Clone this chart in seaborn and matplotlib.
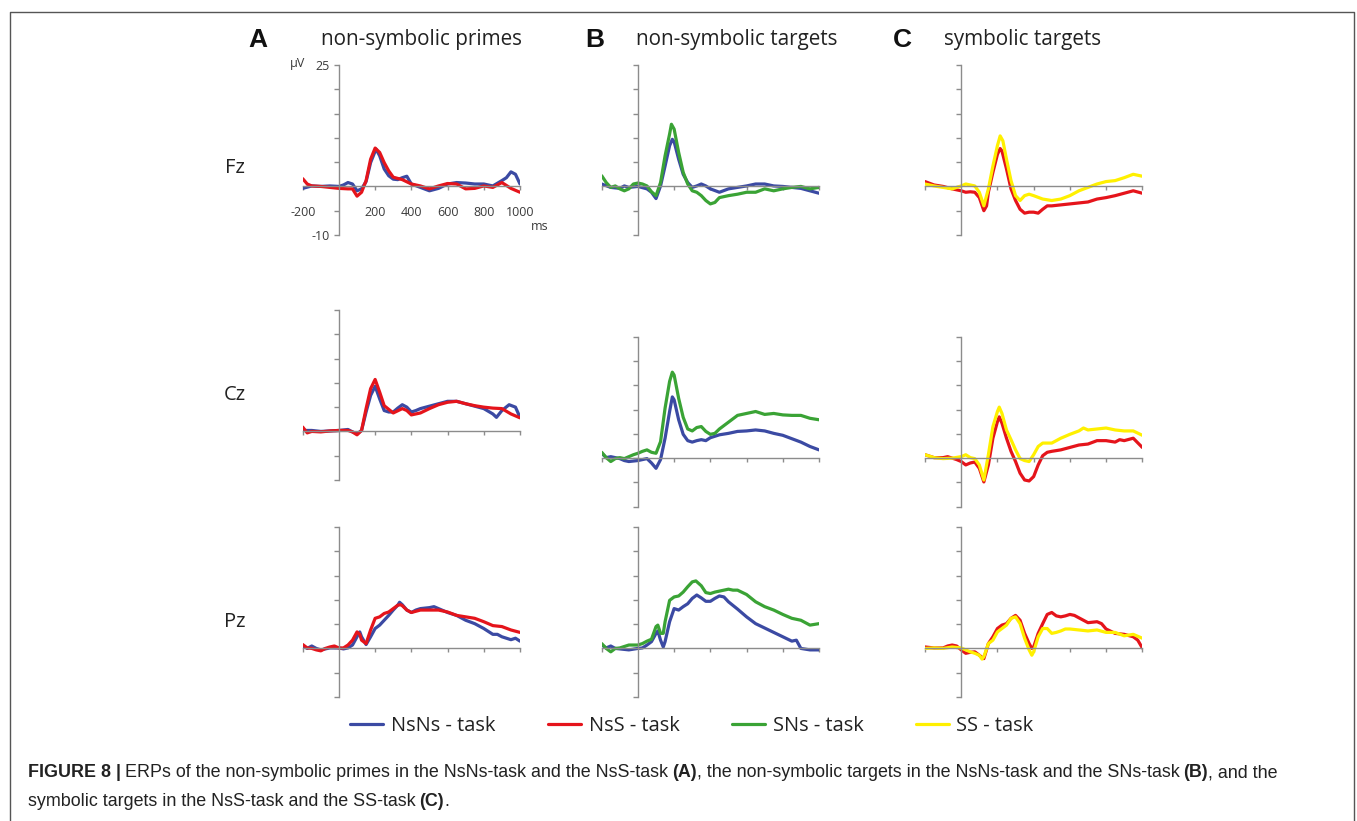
import matplotlib
matplotlib.use("Agg")
import matplotlib.pyplot as plt
import seaborn as sns
from matplotlib.lines import Line2D

# ---------------- data (ms, microvolts) ----------------
channels = ["Fz", "Cz", "Pz"]
panel_titles = ["non-symbolic primes", "non-symbolic targets", "symbolic targets"]
panel_letters = ["A", "B", "C"]
conditions = ["NsNs - task", "NsS - task", "SNs - task", "SS - task"]
xtick_labels = ["-200", "200", "400", "600", "800", "1000"]

# Panel A, Fz
a_fz_nsns_t = [-200, -150, -100, -50, 0, 25, 50, 75, 100, 125, 150, 175, 205, 225, 250, 275, 300, 325, 350, 375, 400, 450, 500, 550, 600, 650, 700, 750, 800, 850, 900, 925, 950, 975, 1000]
a_fz_nsns_v = [-0.4, 0.1, 0.0, 0.1, 0.0, 0.3, 0.8, 0.5, -0.9, -0.5, 1.0, 4.9, 7.7, 6.3, 3.6, 2.2, 1.5, 1.4, 1.8, 2.1, 0.5, -0.2, -0.9, -0.4, 0.5, 0.8, 0.7, 0.5, 0.5, 0.1, 1.2, 1.8, 3.0, 2.5, 0.5]
a_fz_nss_t = [-200, -175, -150, -100, -50, 0, 50, 75, 100, 125, 150, 175, 200, 225, 250, 275, 300, 350, 400, 450, 500, 550, 600, 650, 700, 750, 800, 850, 900, 950, 1000]
a_fz_nss_v = [1.6, 0.5, 0.1, 0.0, -0.2, -0.4, -0.5, -0.5, -2.0, -1.2, 1.2, 5.6, 7.9, 7.0, 4.9, 3.2, 1.9, 1.4, 0.5, 0.1, -0.5, 0.1, 0.6, 0.5, -0.5, -0.4, 0.1, -0.2, 0.8, -0.4, -1.2]

# Panel A, Cz
a_cz_nsns_t = [-200, -150, -100, -50, 0, 50, 75, 100, 125, 150, 175, 200, 225, 250, 275, 300, 325, 350, 375, 400, 425, 450, 500, 550, 600, 650, 700, 750, 800, 850, 870, 900, 940, 975, 1000]
a_cz_nsns_v = [0.2, 0.2, 0.0, 0.1, 0.2, 0.4, -0.1, -0.5, 0.2, 4.0, 7.4, 9.3, 6.7, 4.3, 4.0, 4.0, 4.8, 5.5, 5.0, 4.0, 4.3, 4.7, 5.2, 5.7, 6.2, 6.2, 5.7, 5.2, 4.7, 3.6, 2.9, 4.3, 5.5, 5.0, 2.9]
a_cz_nss_t = [-200, -175, -150, -100, -50, 0, 50, 75, 100, 125, 150, 175, 200, 225, 250, 300, 350, 375, 400, 450, 500, 550, 600, 650, 700, 750, 800, 850, 900, 950, 1000]
a_cz_nss_v = [0.9, -0.3, 0.0, -0.1, 0.1, 0.2, 0.2, -0.1, -0.7, 0.2, 4.7, 8.8, 10.7, 8.1, 5.3, 3.8, 4.7, 4.3, 3.4, 3.8, 4.7, 5.5, 6.0, 6.2, 5.7, 5.3, 5.0, 4.8, 4.7, 3.6, 2.8]

# Panel A, Pz
a_pz_nsns_t = [-200, -175, -150, -125, -100, -50, 0, 25, 50, 75, 100, 115, 125, 150, 175, 200, 225, 250, 275, 300, 325, 335, 350, 375, 400, 425, 450, 500, 525, 550, 600, 650, 700, 750, 800, 850, 875, 900, 950, 975, 1000]
a_pz_nsns_v = [0.5, 0.0, 0.5, 0.0, -0.3, 0.1, 0.1, -0.1, 0.1, 0.7, 2.4, 3.4, 2.4, 0.8, 2.4, 4.1, 4.8, 5.8, 6.8, 7.9, 8.9, 9.5, 9.0, 7.9, 7.4, 7.9, 8.2, 8.4, 8.6, 8.2, 7.4, 6.8, 5.8, 5.1, 4.1, 2.9, 2.9, 2.4, 1.8, 2.1, 1.5]
a_pz_nss_t = [-200, -175, -150, -125, -100, -75, -50, -25, 0, 25, 50, 75, 100, 115, 125, 150, 175, 200, 225, 250, 275, 300, 325, 340, 350, 375, 400, 450, 500, 550, 600, 650, 700, 750, 800, 850, 900, 950, 1000]
a_pz_nss_v = [0.8, 0.1, 0.0, -0.3, -0.5, 0.0, 0.3, 0.5, 0.1, 0.1, 0.7, 1.7, 3.4, 2.9, 1.7, 1.0, 3.8, 6.2, 6.5, 7.2, 7.5, 8.2, 8.9, 9.0, 8.8, 7.9, 7.4, 7.9, 7.9, 7.9, 7.5, 6.8, 6.5, 6.2, 5.5, 4.7, 4.5, 3.8, 3.3]

# Panel B, Fz
b_fz_nsns_t = [-200, -150, -100, -75, -50, 0, 50, 75, 100, 125, 150, 175, 190, 200, 225, 250, 275, 300, 325, 350, 375, 400, 450, 500, 550, 600, 650, 700, 750, 800, 850, 900, 950, 1000]
b_fz_nsns_v = [0.5, -0.2, -0.4, 0.1, -0.2, 0.0, -0.5, -1.2, -2.5, 0.1, 4.2, 8.4, 9.7, 9.2, 5.6, 2.5, 0.8, -0.2, 0.1, 0.5, 0.1, -0.5, -1.2, -0.5, -0.2, 0.1, 0.5, 0.5, 0.1, 0.0, -0.2, -0.4, -0.9, -1.4]
b_fz_sns_t = [-200, -175, -150, -125, -100, -75, -50, -25, 0, 25, 50, 75, 100, 125, 150, 175, 185, 200, 225, 250, 275, 300, 325, 350, 375, 400, 425, 450, 500, 550, 600, 650, 700, 750, 800, 850, 900, 950, 1000]
b_fz_sns_v = [2.2, 0.8, -0.2, 0.1, -0.5, -0.9, -0.5, 0.5, 0.7, 0.5, 0.1, -1.1, -1.9, 0.8, 6.3, 10.8, 12.8, 11.8, 7.0, 2.9, 0.5, -0.9, -1.2, -1.9, -2.9, -3.6, -3.3, -2.3, -1.9, -1.6, -1.2, -1.2, -0.5, -0.9, -0.5, -0.2, 0.0, -0.5, -0.2]

# Panel B, Cz
b_cz_nsns_t = [-200, -175, -150, -100, -75, -50, 0, 25, 50, 75, 100, 125, 150, 175, 190, 200, 225, 250, 275, 300, 325, 350, 375, 400, 450, 500, 550, 600, 650, 700, 750, 800, 850, 900, 950, 1000]
b_cz_nsns_v = [1.0, 0.1, 0.3, -0.1, -0.5, -0.7, -0.5, -0.3, -0.1, -1.0, -2.1, -0.3, 4.1, 9.6, 12.6, 12.0, 7.9, 4.9, 3.6, 3.3, 3.6, 3.8, 3.6, 4.2, 4.8, 5.1, 5.5, 5.6, 5.8, 5.6, 5.1, 4.7, 4.0, 3.3, 2.4, 1.7]
b_cz_sns_t = [-200, -175, -150, -125, -100, -75, -50, -25, 0, 25, 50, 75, 100, 125, 150, 175, 190, 200, 225, 250, 275, 300, 325, 350, 375, 400, 425, 450, 500, 550, 600, 650, 700, 750, 800, 850, 900, 950, 1000]
b_cz_sns_v = [1.2, 0.1, -0.7, -0.1, 0.1, -0.1, 0.3, 0.7, 1.0, 1.4, 1.7, 1.2, 1.0, 3.4, 10.3, 15.8, 17.7, 17.1, 12.3, 8.4, 6.0, 5.6, 6.3, 6.5, 5.5, 4.9, 5.1, 6.0, 7.4, 8.8, 9.2, 9.6, 9.0, 9.2, 8.9, 8.8, 8.8, 8.2, 7.9]

# Panel B, Pz
b_pz_nsns_t = [-200, -175, -150, -125, -100, -50, 0, 25, 50, 75, 100, 110, 125, 140, 150, 175, 200, 225, 250, 275, 300, 325, 350, 375, 400, 425, 450, 475, 500, 550, 600, 650, 700, 750, 800, 850, 875, 900, 950, 1000]
b_pz_nsns_v = [0.7, 0.1, 0.5, 0.0, -0.1, -0.3, 0.0, 0.1, 0.7, 1.4, 3.1, 3.6, 1.7, 0.3, 1.4, 5.5, 8.2, 7.9, 8.6, 9.2, 10.3, 11.0, 10.4, 9.7, 9.7, 10.3, 10.8, 10.6, 9.6, 8.1, 6.5, 5.1, 4.2, 3.3, 2.4, 1.5, 1.7, 0.0, -0.3, -0.3]
b_pz_sns_t = [-200, -175, -150, -125, -100, -50, 0, 25, 50, 75, 100, 110, 125, 140, 150, 175, 200, 225, 250, 275, 300, 320, 350, 375, 400, 425, 450, 475, 500, 525, 550, 600, 650, 700, 750, 800, 850, 900, 950, 1000]
b_pz_sns_v = [1.0, 0.0, -0.7, 0.0, 0.1, 0.7, 0.7, 1.0, 1.5, 1.9, 4.5, 4.8, 3.1, 3.1, 5.5, 9.9, 10.6, 10.8, 11.6, 12.7, 13.7, 13.9, 12.9, 11.5, 11.3, 11.6, 11.8, 12.0, 12.2, 12.0, 12.0, 11.1, 9.6, 8.6, 7.9, 7.0, 6.2, 5.8, 4.8, 5.1]

# Panel C, Fz
c_fz_nss_t = [-200, -150, -100, -50, 0, 25, 50, 75, 100, 125, 140, 150, 175, 200, 215, 225, 250, 275, 300, 325, 350, 375, 400, 425, 450, 475, 500, 550, 600, 650, 700, 750, 800, 850, 900, 950, 1000]
c_fz_nss_v = [1.0, 0.3, 0.0, -0.5, -0.9, -1.2, -1.1, -1.2, -2.3, -5.0, -4.0, -1.2, 2.9, 6.6, 7.8, 7.3, 3.6, -0.5, -2.9, -4.7, -5.5, -5.3, -5.3, -5.5, -4.7, -4.0, -4.0, -3.8, -3.6, -3.4, -3.2, -2.6, -2.3, -1.9, -1.4, -0.9, -1.4]
c_fz_ss_t = [-200, -150, -100, -50, 0, 25, 50, 75, 100, 125, 150, 175, 200, 215, 230, 250, 275, 300, 325, 350, 375, 400, 450, 500, 550, 600, 650, 700, 750, 800, 850, 900, 950, 975, 1000]
c_fz_ss_v = [0.5, 0.1, -0.2, -0.5, 0.1, 0.5, 0.3, 0.1, -1.2, -4.0, -0.5, 4.2, 8.4, 10.4, 9.4, 5.6, 1.2, -1.9, -2.9, -1.9, -1.6, -1.9, -2.6, -2.9, -2.6, -1.9, -0.9, -0.2, 0.5, 1.0, 1.2, 1.8, 2.5, 2.3, 2.1]

# Panel C, Cz
c_cz_nss_t = [-200, -150, -100, -75, -50, -25, 0, 25, 50, 75, 100, 125, 150, 175, 200, 210, 225, 250, 275, 300, 325, 350, 375, 400, 425, 450, 475, 500, 550, 600, 650, 700, 750, 800, 850, 875, 900, 950, 1000]
c_cz_nss_v = [0.7, 0.1, 0.1, 0.3, 0.0, -0.3, -0.7, -1.4, -1.0, -0.8, -2.1, -4.9, -1.4, 4.1, 7.5, 8.5, 7.2, 4.1, 1.4, -0.7, -3.1, -4.5, -4.7, -3.8, -1.4, 0.5, 1.2, 1.4, 1.7, 2.2, 2.7, 2.9, 3.6, 3.6, 3.3, 3.8, 3.6, 4.1, 2.2]
c_cz_ss_t = [-200, -150, -100, -50, 0, 25, 50, 75, 100, 125, 150, 175, 200, 210, 225, 250, 275, 300, 325, 350, 375, 400, 425, 450, 500, 550, 600, 650, 675, 700, 750, 800, 850, 900, 950, 1000]
c_cz_ss_v = [0.7, 0.1, -0.1, 0.0, 0.3, 0.7, 0.1, -0.1, -1.4, -4.5, 0.7, 6.5, 9.6, 10.5, 9.2, 5.8, 3.8, 1.7, -0.1, -0.5, -0.7, 0.7, 2.4, 3.1, 3.1, 4.1, 4.9, 5.6, 6.2, 5.8, 6.0, 6.2, 5.8, 5.6, 5.6, 4.7]

# Panel C, Pz
c_pz_nss_t = [-200, -150, -100, -75, -50, -25, 0, 25, 50, 75, 100, 125, 150, 175, 200, 225, 250, 275, 300, 325, 350, 375, 390, 400, 425, 450, 475, 500, 525, 550, 575, 600, 625, 650, 700, 750, 775, 800, 850, 900, 950, 975, 1000]
c_pz_nss_v = [0.3, 0.1, 0.1, 0.5, 0.7, 0.5, -0.3, -1.0, -0.8, -0.7, -1.4, -2.1, 1.0, 2.4, 4.1, 4.8, 5.1, 6.2, 6.8, 5.8, 3.1, 1.0, 0.0, 0.3, 3.1, 5.1, 7.0, 7.4, 6.7, 6.5, 6.7, 7.0, 6.8, 6.3, 5.3, 5.5, 5.1, 4.0, 3.1, 2.9, 2.4, 1.7, 0.1]
c_pz_ss_t = [-200, -150, -100, -50, 0, 25, 50, 75, 100, 115, 125, 150, 175, 200, 225, 250, 275, 300, 325, 350, 375, 390, 400, 425, 450, 475, 500, 525, 550, 575, 600, 650, 700, 750, 800, 850, 900, 950, 1000]
c_pz_ss_v = [0.0, 0.1, 0.0, 0.3, 0.1, -0.3, -0.7, -1.0, -1.4, -2.2, -1.7, 1.0, 1.7, 3.4, 4.1, 4.8, 6.2, 6.5, 5.1, 2.1, -0.3, -1.4, -0.7, 2.4, 4.1, 4.1, 3.1, 3.3, 3.6, 4.0, 4.0, 3.8, 3.6, 3.8, 3.3, 3.3, 2.6, 2.9, 2.1]

# ---------------- styling ----------------
W, H = 1357, 821
colors = {"NsNs - task": "#3b4aa3", "NsS - task": "#e5141b",
          "SNs - task": "#3aa335", "SS - task": "#fff000"}

sns.set_style("white")
plt.rcParams["font.family"] = ["Open Sans", "DejaVu Sans"]

fig = plt.figure(figsize=(W / 100, H / 100), dpi=100)
fig.patch.set_facecolor("white")

# overlay axes in pixel coordinates for free text and the frame
ov = fig.add_axes([0, 0, 1, 1])
ov.set_xlim(0, W)
ov.set_ylim(H, 0)
ov.axis("off")
ov.plot([10, 10, 1354, 1354], [H + 5, 12, 12, H + 5], color="#555555", lw=1.0)

panels = {
    ("A", "Fz"): [(a_fz_nsns_t, a_fz_nsns_v, "NsNs - task"), (a_fz_nss_t, a_fz_nss_v, "NsS - task")],
    ("A", "Cz"): [(a_cz_nsns_t, a_cz_nsns_v, "NsNs - task"), (a_cz_nss_t, a_cz_nss_v, "NsS - task")],
    ("A", "Pz"): [(a_pz_nsns_t, a_pz_nsns_v, "NsNs - task"), (a_pz_nss_t, a_pz_nss_v, "NsS - task")],
    ("B", "Fz"): [(b_fz_nsns_t, b_fz_nsns_v, "NsNs - task"), (b_fz_sns_t, b_fz_sns_v, "SNs - task")],
    ("B", "Cz"): [(b_cz_nsns_t, b_cz_nsns_v, "NsNs - task"), (b_cz_sns_t, b_cz_sns_v, "SNs - task")],
    ("B", "Pz"): [(b_pz_nsns_t, b_pz_nsns_v, "NsNs - task"), (b_pz_sns_t, b_pz_sns_v, "SNs - task")],
    ("C", "Fz"): [(c_fz_nss_t, c_fz_nss_v, "NsS - task"), (c_fz_ss_t, c_fz_ss_v, "SS - task")],
    ("C", "Cz"): [(c_cz_nss_t, c_cz_nss_v, "NsS - task"), (c_cz_ss_t, c_cz_ss_v, "SS - task")],
    ("C", "Pz"): [(c_pz_nss_t, c_pz_nss_v, "NsS - task"), (c_pz_ss_t, c_pz_ss_v, "SS - task")],
}

col_x0 = {"A": 302.7, "B": 601.7, "C": 925.0}
row_top = {("A", "Fz"): 65, ("B", "Fz"): 65, ("C", "Fz"): 65,
           ("A", "Cz"): 310, ("B", "Cz"): 336.7, ("C", "Cz"): 336.7,
           ("A", "Pz"): 527, ("B", "Pz"): 527, ("C", "Pz"): 527}
AX_W, AX_H = 217.3, 170.0
axis_col = "#8c8c8c"

for (col, ch), series in panels.items():
    x0, top = col_x0[col], row_top[(col, ch)]
    ax = fig.add_axes([x0 / W, 1 - (top + AX_H) / H, AX_W / W, AX_H / H])
    ax.patch.set_alpha(0)
    for t, v, lab in series:
        sns.lineplot(x=t, y=v, ax=ax, color=colors[lab], linewidth=2.3, legend=False)
    ax.set_xlim(-200, 1000)
    ax.set_ylim(-10, 25)
    for s in ["top", "right"]:
        ax.spines[s].set_visible(False)
    ax.spines["left"].set_position(("data", 0))
    ax.spines["bottom"].set_position(("data", 0))
    for s in ["left", "bottom"]:
        ax.spines[s].set_color(axis_col)
        ax.spines[s].set_linewidth(1.0)
    ax.set_xlabel("")
    ax.set_ylabel("")
    ax.set_xticks([-200, 200, 400, 600, 800, 1000])
    ax.set_yticks([-10, -5, 0, 5, 10, 15, 20, 25])
    ax.tick_params(axis="x", bottom=True, direction="out", length=3, width=1, color=axis_col,
                   labelsize=9, labelcolor="#3a3a3a", pad=11)
    ax.tick_params(axis="y", left=True, direction="out", length=3.5, width=1, color=axis_col,
                   labelsize=9, labelcolor="#3a3a3a", pad=3)
    if (col, ch) == ("A", "Fz"):
        ax.set_xticklabels(xtick_labels)
        ax.set_yticklabels(["-10", "", "", "", "", "", "", "25"])
    else:
        ax.set_xticklabels([])
        ax.set_yticklabels([])

# unit labels on the first panel
ov.text(298, 63, "µV", ha="center", va="center", fontsize=9, color="#3a3a3a")
ov.text(540, 227, "ms", ha="center", va="center", fontsize=9, color="#3a3a3a")

# row labels
for ch, y in zip(channels, [168, 395, 622]):
    ov.text(235, y, ch, ha="center", va="center", fontsize=14.5, color="#222222")

# column headers
for letter, title, lx, tx in zip(panel_letters, panel_titles, [248, 585, 893], [321, 636, 944]):
    ov.text(lx, 40, letter, ha="left", va="center", fontsize=19, fontweight="bold",
            family="Liberation Sans", color="#111111")
    ov.text(tx, 40, title, ha="left", va="center", fontsize=14.9, color="#222222")

# legend
handles = [Line2D([], [], color=colors[c], lw=2.3) for c in conditions]
fig.legend(handles, conditions, loc="center", bbox_to_anchor=(692 / W, 1 - 726 / H),
           ncol=4, frameon=False, fontsize=14.4, handlelength=1.65, handletextpad=0.4,
           columnspacing=2.6, labelcolor="#222222")

# caption
cap_kw = dict(family="Liberation Sans", fontsize=12.9, color="#222222")
def chain(prev, text, gap, bold=False):
    return ov.annotate(text, xy=(1, 0), xycoords=prev, xytext=(gap, 0),
                       textcoords="offset pixels", ha="left", va="bottom",
                       fontweight="bold" if bold else "normal", **cap_kw)

t0 = ov.text(28, 777, "FIGURE 8 |", ha="left", va="baseline", fontweight="bold", **cap_kw)
t = chain(t0, "ERPs of the non-symbolic primes in the NsNs-task and the NsS-task", 4)
t = chain(t, "(A)", 4, bold=True)
t = chain(t, ", the non-symbolic targets in the NsNs-task and the SNs-task", 0)
t = chain(t, "(B)", 4, bold=True)
t = chain(t, ", and the", 0)
t1 = ov.text(28, 806, "symbolic targets in the NsS-task and the SS-task", ha="left",
             va="baseline", **cap_kw)
t = chain(t1, "(C)", 4, bold=True)
t = chain(t, ".", 0)

fig.savefig("out.png", dpi=100, facecolor="white")
